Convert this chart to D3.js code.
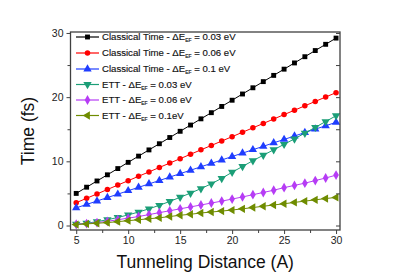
<!DOCTYPE html>
<html><head><meta charset="utf-8">
<script src="https://cdn.jsdelivr.net/npm/d3@7"></script>
<style>body{margin:0;background:#fff}svg{display:block}text{font-family:Arial,"Liberation Sans",sans-serif}</style>
</head><body>
<svg id="c" width="396" height="276"></svg>
<script>
const distance = [5,6,7,8,9,10,11,12,13,14,15,16,17,18,19,20,21,22,23,24,25,26,27,28,29,30];
const classical003 = [5.0,5.97,6.94,7.9,8.87,9.84,10.81,11.78,12.74,13.71,14.68,15.65,16.62,17.58,18.55,19.52,20.49,21.46,22.42,23.39,24.36,25.33,26.3,27.26,28.23,29.2];
const classical006 = [3.55,4.24,4.92,5.61,6.3,6.98,7.67,8.35,9.04,9.73,10.41,11.1,11.79,12.47,13.16,13.84,14.53,15.22,15.9,16.59,17.28,17.96,18.65,19.33,20.02,20.7];
const classical01 = [2.75,3.28,3.82,4.35,4.88,5.42,5.95,6.48,7.01,7.55,8.08,8.61,9.15,9.68,10.21,10.75,11.28,11.81,12.34,12.88,13.41,13.94,14.48,15.01,15.54,16.08];
const ett003 = [0.2,0.35,0.6,0.9,1.25,1.65,2.1,2.6,3.15,3.75,4.4,5.05,5.75,6.5,7.35,8.3,9.2,10.1,10.95,11.8,12.65,13.5,14.4,15.3,16.2,17.1];
const ett006 = [0.2,0.3,0.45,0.65,0.9,1.15,1.4,1.7,2.0,2.3,2.6,2.9,3.2,3.5,3.8,4.12,4.45,4.8,5.15,5.5,5.9,6.25,6.6,7.0,7.4,7.85];
const ett01 = [0.15,0.25,0.35,0.45,0.6,0.75,0.9,1.05,1.2,1.4,1.6,1.75,1.95,2.1,2.25,2.41,2.6,2.8,3.0,3.2,3.39,3.6,3.8,4.0,4.2,4.38];
const seriesNames = ["Classical Time - ΔE|EF| = 0.03 eV","Classical Time - ΔE|EF| = 0.06 eV","Classical Time - ΔE|EF| = 0.1 eV","ETT - ΔE|EF| = 0.03 eV","ETT - ΔE|EF| = 0.06 eV","ETT - ΔE|EF| = 0.1eV"];
const xTicks = [5,10,15,20,25,30];
const yTicks = [0,10,20,30];
const xLabel = "Tunneling Distance (A)";
const yLabel = "Time (fs)";

const colors = ["#000000","#ff0000","#1f3dff","#1b9e77","#b63cf5","#6f8c00"];
const symbols = [d3.symbolSquare, d3.symbolCircle, d3.symbolTriangle, "tri-down", d3.symbolDiamond, "tri-left"];
const values = [classical003, classical006, classical01, ett003, ett006, ett01];

const svg = d3.select("#c");
const L=70.5, R=340, T=32, B=230;
const x = d3.scaleLinear().domain([4.45,30.38]).range([L,R]);
const y = d3.scaleLinear().domain([-0.7,30.15]).range([B,T]);

function marker(g, i, cx, cy){
  const c = colors[i];
  const s = symbols[i];
  if (s === "tri-down") {
    g.append("path").attr("d", d3.symbol(d3.symbolTriangle, 30)()).attr("transform",`translate(${cx},${cy}) rotate(180)`).attr("fill",c);
  } else if (s === "tri-left") {
    g.append("path").attr("d", d3.symbol(d3.symbolTriangle, 30)()).attr("transform",`translate(${cx},${cy}) rotate(-90)`).attr("fill",c);
  } else {
    const size = s===d3.symbolSquare?24: s===d3.symbolCircle?24: s===d3.symbolDiamond?28:30;
    g.append("path").attr("d", d3.symbol(s, size)()).attr("transform",`translate(${cx},${cy})`).attr("fill",c);
  }
}

// series
const line = d3.line().x((d,j)=>x(distance[j])).y(d=>y(d));
values.forEach((vals,i)=>{
  const g = svg.append("g");
  g.append("path").datum(vals).attr("d",line).attr("fill","none").attr("stroke",colors[i]).attr("stroke-width",1);
  vals.forEach((v,j)=>marker(g,i,x(distance[j]),y(v)));
});

// frame
svg.append("rect").attr("x",L).attr("y",T).attr("width",R-L).attr("height",B-T).attr("fill","none").attr("stroke","#404040").attr("stroke-width",1.3);

// bottom axis (outward ticks)
const xAxis = d3.axisBottom(x).tickValues(xTicks).tickSize(4).tickPadding(3).tickFormat(d3.format("d"));
const gx = svg.append("g").attr("transform",`translate(0,${B})`).call(xAxis);
gx.select(".domain").remove();
gx.selectAll("line").attr("stroke","#404040");
gx.selectAll("text").attr("font-size",10.5).attr("fill","#222").style("font-family","Arial, 'Liberation Sans', sans-serif");
const xMinor = d3.axisBottom(x).tickValues([7.5,12.5,17.5,22.5,27.5]).tickSize(3).tickFormat("");
const gxm = svg.append("g").attr("transform",`translate(0,${B})`).call(xMinor);
gxm.select(".domain").remove(); gxm.selectAll("line").attr("stroke","#404040");

// left axis
const yAxis = d3.axisLeft(y).tickValues(yTicks).tickSize(4).tickPadding(3).tickFormat(d3.format("d"));
const gy = svg.append("g").attr("transform",`translate(${L},0)`).call(yAxis);
gy.select(".domain").remove();
gy.selectAll("line").attr("stroke","#404040");
gy.selectAll("text").attr("font-size",10.5).attr("fill","#222").style("font-family","Arial, 'Liberation Sans', sans-serif");
const yMinor = d3.axisLeft(y).tickValues([5,15,25]).tickSize(3).tickFormat("");
const gym = svg.append("g").attr("transform",`translate(${L},0)`).call(yMinor);
gym.select(".domain").remove(); gym.selectAll("line").attr("stroke","#404040");

// right mirror ticks (inward)
const yRight = d3.axisRight(y).tickValues([0,5,10,15,20,25,30]).tickSize(-4).tickFormat("");
const gyr = svg.append("g").attr("transform",`translate(${R},0)`).call(yRight);
gyr.select(".domain").remove(); gyr.selectAll("line").attr("stroke","#404040");

// axis titles
svg.append("text").attr("x",(L+R)/2).attr("y",268).attr("text-anchor","middle").attr("font-size",17.5).attr("fill","#111").text(xLabel);
svg.append("text").attr("transform",`translate(34,${(T+B)/2}) rotate(-90)`).attr("text-anchor","middle").attr("font-size",17.5).attr("fill","#111").text(yLabel);

// legend
const lg = svg.append("g");
const rowY = [37, 53, 69, 84.5, 100, 115.5];
seriesNames.forEach((name,i)=>{
  const yy = rowY[i];
  lg.append("line").attr("x1",76).attr("x2",99).attr("y1",yy).attr("y2",yy).attr("stroke",colors[i]).attr("stroke-width",1.2);
  marker(lg,i,87.5,yy);
  const parts = name.split("|");
  const t = lg.append("text").attr("x",102).attr("y",yy+3.4).attr("font-size",9.6).attr("fill","#111").attr("stroke","#111").attr("stroke-width",0.15);
  t.append("tspan").text(parts[0]);
  t.append("tspan").attr("font-size",5).attr("dy",2).text(parts[1]);
  t.append("tspan").attr("dy",-2).text(parts[2]);
});
</script>
</body></html>
